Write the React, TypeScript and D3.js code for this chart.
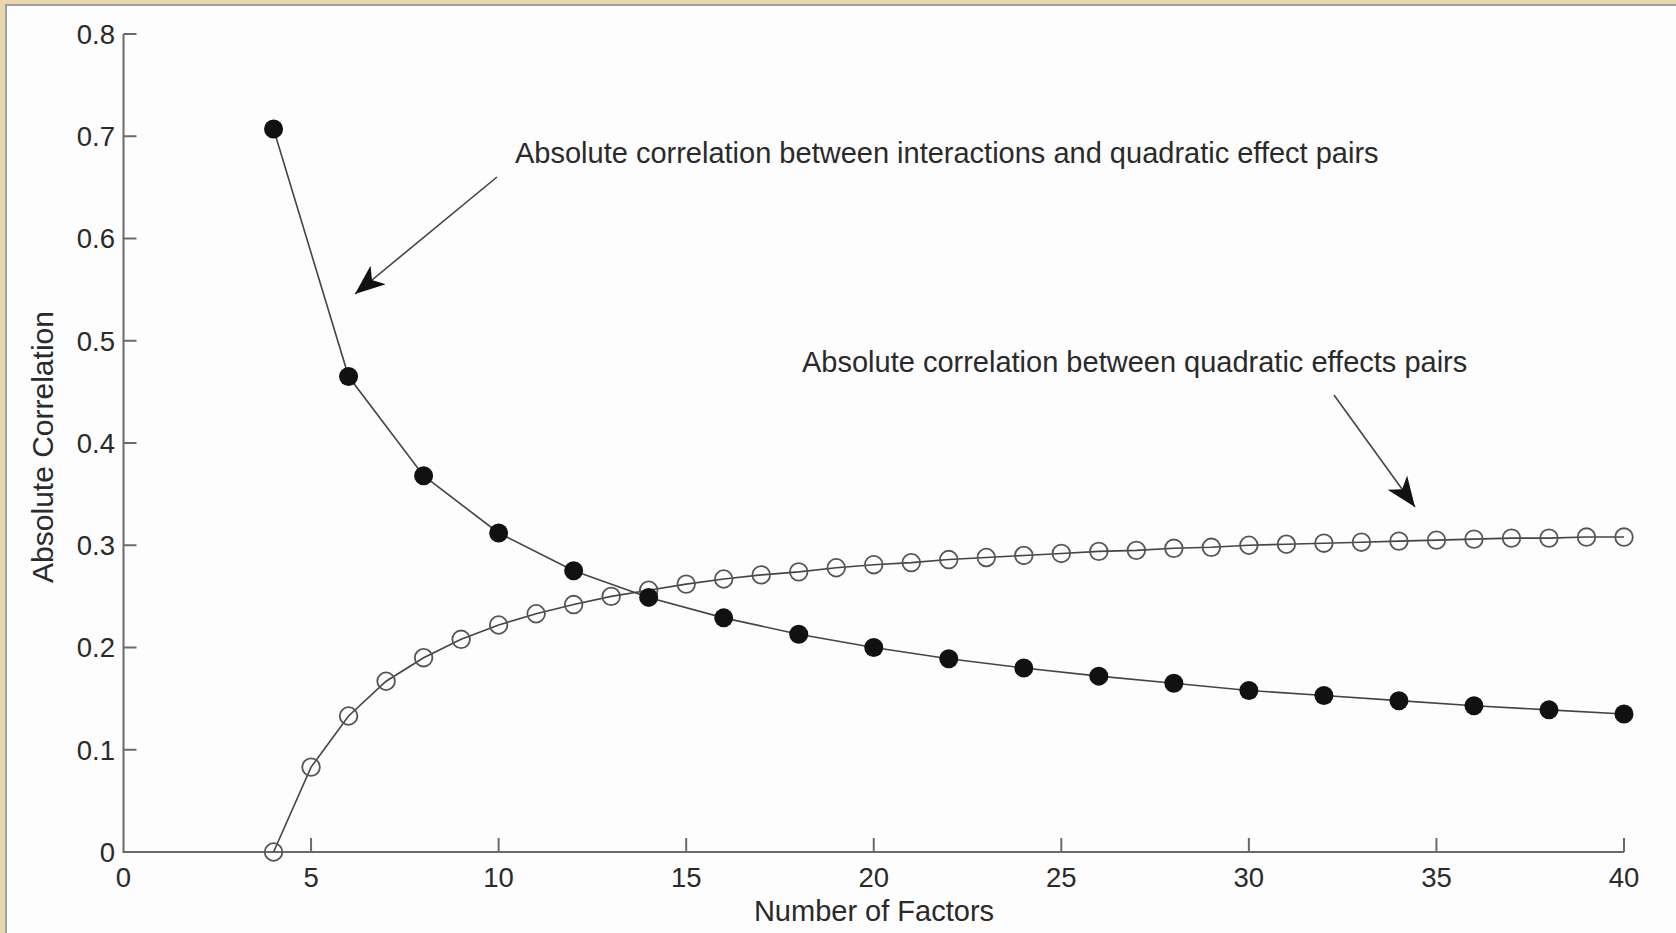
import React from "react";
import * as d3 from "d3";

const W = 1676;
const H = 933;

const xTicks = [0, 5, 10, 15, 20, 25, 30, 35, 40];
const yTicks = [0, 0.1, 0.2, 0.3, 0.4, 0.5, 0.6, 0.7, 0.8];
const yTickLabels = ["0", "0.1", "0.2", "0.3", "0.4", "0.5", "0.6", "0.7", "0.8"];

// Filled markers: interactions vs quadratic effect pairs
const filledX = [4, 6, 8, 10, 12, 14, 16, 18, 20, 22, 24, 26, 28, 30, 32, 34, 36, 38, 40];
const filledY = [0.707, 0.465, 0.368, 0.312, 0.275, 0.249, 0.229, 0.213, 0.200, 0.189, 0.180, 0.172, 0.165, 0.158, 0.153, 0.148, 0.143, 0.139, 0.135];

// Open markers: quadratic effects pairs
const openX = [4, 5, 6, 7, 8, 9, 10, 11, 12, 13, 14, 15, 16, 17, 18, 19, 20, 21, 22, 23, 24, 25, 26, 27, 28, 29, 30, 31, 32, 33, 34, 35, 36, 37, 38, 39, 40];
const openY = [0, 0.083, 0.133, 0.167, 0.190, 0.208, 0.222, 0.233, 0.242, 0.250, 0.256, 0.262, 0.267, 0.271, 0.274, 0.278, 0.281, 0.283, 0.286, 0.288, 0.290, 0.292, 0.294, 0.295, 0.297, 0.298, 0.300, 0.301, 0.302, 0.303, 0.304, 0.305, 0.306, 0.307, 0.307, 0.308, 0.308];

const note1 = "Absolute correlation between interactions and quadratic effect pairs";
const note2 = "Absolute correlation between quadratic effects pairs";
const xLabel = "Number of Factors";
const yLabel = "Absolute Correlation";

export default function App() {
  const x = d3.scaleLinear().domain([0, 40]).range([123.5, 1624]);
  const y = d3.scaleLinear().domain([0, 0.8]).range([852, 34]);
  const line = d3.line<[number, number]>().x(d => x(d[0])).y(d => y(d[1]));
  const filled: [number, number][] = filledX.map((v, i) => [v, filledY[i]]);
  const open: [number, number][] = openX.map((v, i) => [v, openY[i]]);
  const font = "'Liberation Sans', Arial, Helvetica, sans-serif";
  const axisColor = "#6a6a6a";
  const txt = "#2a2a2a";

  return (
    <svg width={W} height={H} style={{ position: "fixed", left: 0, top: 0, display: "block" }} fontFamily={font}>
      <defs>
        <marker id="stealth" viewBox="0 0 30 24" refX="30" refY="12" markerWidth="30" markerHeight="24" markerUnits="userSpaceOnUse" orient="auto">
          <path d="M0,0 L30,12 L0,24 L8,12 Z" fill="#111" />
        </marker>
      </defs>
      <rect x={0} y={0} width={W} height={H} fill="#e9d6ab" />
      <rect x={5} y={4} width={W - 5} height={H - 4} fill="#a0a0a0" />
      <rect x={7} y={6} width={W - 7} height={H - 6} fill="#fdfdfd" />

      {/* axes */}
      <path d={`M${x(0)},${y(0.8)} V${y(0)} H${x(40)}`} fill="none" stroke={axisColor} strokeWidth={2} />
      {yTicks.map((t, i) => (
        <g key={"yt" + i}>
          {i > 0 && <line x1={x(0)} x2={x(0) + 13} y1={y(t)} y2={y(t)} stroke={axisColor} strokeWidth={2} />}
          <text x={115} y={y(t)} dy="0.36em" textAnchor="end" fontSize={27.5} fill={txt}>{yTickLabels[i]}</text>
        </g>
      ))}
      {xTicks.map((t, i) => (
        <g key={"xt" + i}>
          {i > 0 && <line x1={x(t)} x2={x(t)} y1={y(0)} y2={y(0) - 14} stroke={axisColor} strokeWidth={2} />}
          <text x={x(t)} y={887} textAnchor="middle" fontSize={27.5} fill={txt}>{t}</text>
        </g>
      ))}

      {/* lines */}
      <path d={line(filled) || ""} fill="none" stroke="#444" strokeWidth={1.6} />
      <path d={line(open) || ""} fill="none" stroke="#444" strokeWidth={1.6} />
      {open.map((d, i) => (
        <circle key={"o" + i} cx={x(d[0])} cy={y(d[1])} r={8.8} fill="none" stroke="#555" strokeWidth={1.8} />
      ))}
      {filled.map((d, i) => (
        <circle key={"f" + i} cx={x(d[0])} cy={y(d[1])} r={9.5} fill="#111" />
      ))}

      {/* annotations */}
      <text x={515} y={163} fontSize={29} fill={txt}>{note1}</text>
      <text x={802} y={372} fontSize={29} fill={txt}>{note2}</text>
      <line x1={497} y1={177} x2={355} y2={294} stroke="#444" strokeWidth={1.6} markerEnd="url(#stealth)" />
      <line x1={1334} y1={395} x2={1415} y2={507} stroke="#444" strokeWidth={1.6} markerEnd="url(#stealth)" />

      {/* axis titles */}
      <text x={874} y={921} textAnchor="middle" fontSize={29} fill={txt}>{xLabel}</text>
      <text transform={`translate(53,447) rotate(-90)`} textAnchor="middle" fontSize={30} fill={txt}>{yLabel}</text>
    </svg>
  );
}
